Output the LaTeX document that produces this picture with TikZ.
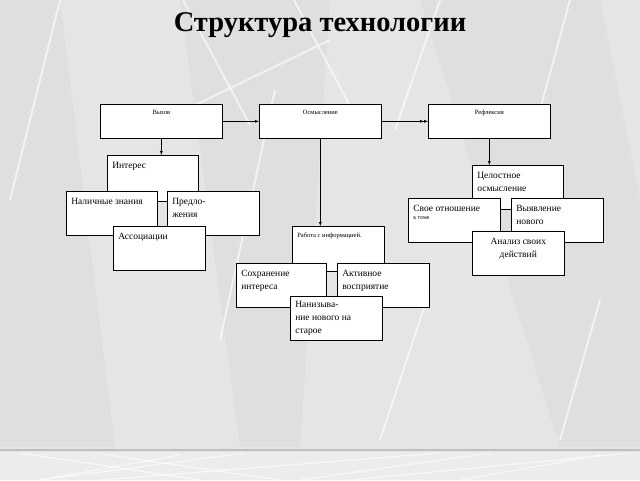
\documentclass[tikz,border=0pt]{standalone}
\usepackage{fontspec}
\setmainfont{Liberation Serif}
\usetikzlibrary{backgrounds}

\definecolor{slidebg}{rgb}{0.90,0.90,0.90}
\definecolor{slidedk}{rgb}{0.875,0.875,0.875}
\definecolor{slidelt}{rgb}{0.925,0.925,0.925}

\tikzset{
  blk/.style={draw, fill=white, anchor=north west, inner xsep=5pt, inner ysep=7pt, line width=0.6pt},
  wline/.style={white, line width=2pt, opacity=0.6}
}
% text inside a box, kept at the top
\newcommand{\inbox}[3]{\parbox[t][#2pt][t]{#1pt}{#3}}

\begin{document}
\begin{tikzpicture}[x=1pt, y=-1pt, font=\fontsize{9.5}{13}\selectfont]
\useasboundingbox (0,0) rectangle (640,480);
% Background
\fill[slidebg] (0,0) rectangle (640,480);
\fill[slidedk] (0,0) -- (60,0) -- (115,447) -- (0,447) -- cycle;
\fill[slidedk] (180,0) -- (330,0) -- (300,447) -- (240,447) -- cycle;
\fill[slidedk] (420,0) -- (600,0) -- (640,200) -- (640,447) -- (560,447) -- cycle;
\fill[slidelt] (0,452) rectangle (640,480);
\draw[gray!50, line width=1.5pt] (0,450) -- (640,450);
\draw[wline] (160,122) -- (330,40);
\draw[wline] (183,0) -- (250,125);
\draw[wline] (294,0) -- (360,125);
\draw[wline] (60,0) -- (10,200);
\draw[wline] (440,0) -- (395,130);
\draw[wline] (570,0) -- (540,110);
\draw[wline] (275,90) -- (220,340);
\draw[wline] (430,290) -- (380,440);
\draw[wline] (600,300) -- (560,440);
\draw[wline, line width=1.2pt] (20,453) -- (200,480);
\draw[wline, line width=1.2pt] (95,453) -- (280,480);
\draw[wline, line width=1.2pt] (180,455) -- (40,480);
\draw[wline, line width=1.2pt] (40,480) -- (245,453);
\draw[wline, line width=1.2pt] (100,480) -- (440,453);
\draw[wline, line width=1.2pt] (300,480) -- (490,453);
\draw[wline, line width=1.2pt] (350,480) -- (630,453);
\draw[wline, line width=1.2pt] (460,480) -- (600,455);

% Title
\node[font=\fontsize{28.5}{32}\selectfont\bfseries] (title) at (320,25) {Структура технологии};

% Top row
\node[blk, inner ysep=6pt] (vyz) at (100,104) {\inbox{112}{22}{\centering\fontsize{6.5}{8}\selectfont Вызов}};
\node[blk, inner ysep=6pt] (osm) at (259,104) {\inbox{112}{22}{\centering\fontsize{6.5}{8}\selectfont Осмысление}};
\node[blk, inner ysep=6pt] (ref) at (428,104) {\inbox{112}{22}{\centering\fontsize{6.5}{8}\selectfont Рефлексия}};

% Left group
\node[blk] (int) at (107,155) {\inbox{81}{32}{Интерес}};
\node[blk] (nal) at (66,191) {\inbox{81}{30}{Наличные знания}};
\node[blk] (pre) at (167,191) {\inbox{82}{30}{Предло-\\жения}};
\node[blk] (aso) at (113,226) {\inbox{82}{30}{Ассоциации}};

% Middle group
\node[blk] (rab) at (292,226) {\inbox{82}{31}{\fontsize{6.5}{8}\selectfont Работа с информацией.}};
\node[blk] (sox) at (236,263) {\inbox{80}{30}{Сохранение\\интереса}};
\node[blk] (akt) at (337,263) {\inbox{82}{30}{Активное\\восприятие}};
\node[blk, inner ysep=5pt] (nan) at (290,296) {\inbox{82}{34}{Нанизыва-\\ние нового на\\старое}};

% Right group
\node[blk] (cel) at (472,165) {\inbox{81}{30}{Целостное\\осмысление}};
\node[blk] (svo) at (408,198) {\inbox{82}{30}{Свое отношение\\[-5pt]{\fontsize{6}{8}\selectfont к теме}}};
\node[blk] (vyy) at (511,198) {\inbox{82}{30}{Выявление\\нового}};
\node[blk] (ana) at (472,231) {\inbox{82}{30}{\centering Анализ своих\\действий}};

% Arrows
\draw [->, thin, >=latex] (vyz.east) -- (osm.west);
\draw [->>, thin, >=latex] (osm.east) -- (ref.west);
\draw [->, thin, >=latex] (vyz.south) -- (vyz.south |- int.north);
\draw [->, thin, >=latex] (osm.south) -- (osm.south |- rab.north);
\draw [->, thin, >=latex] (ref.south) -- (ref.south |- cel.north);
\end{tikzpicture}
\end{document}
